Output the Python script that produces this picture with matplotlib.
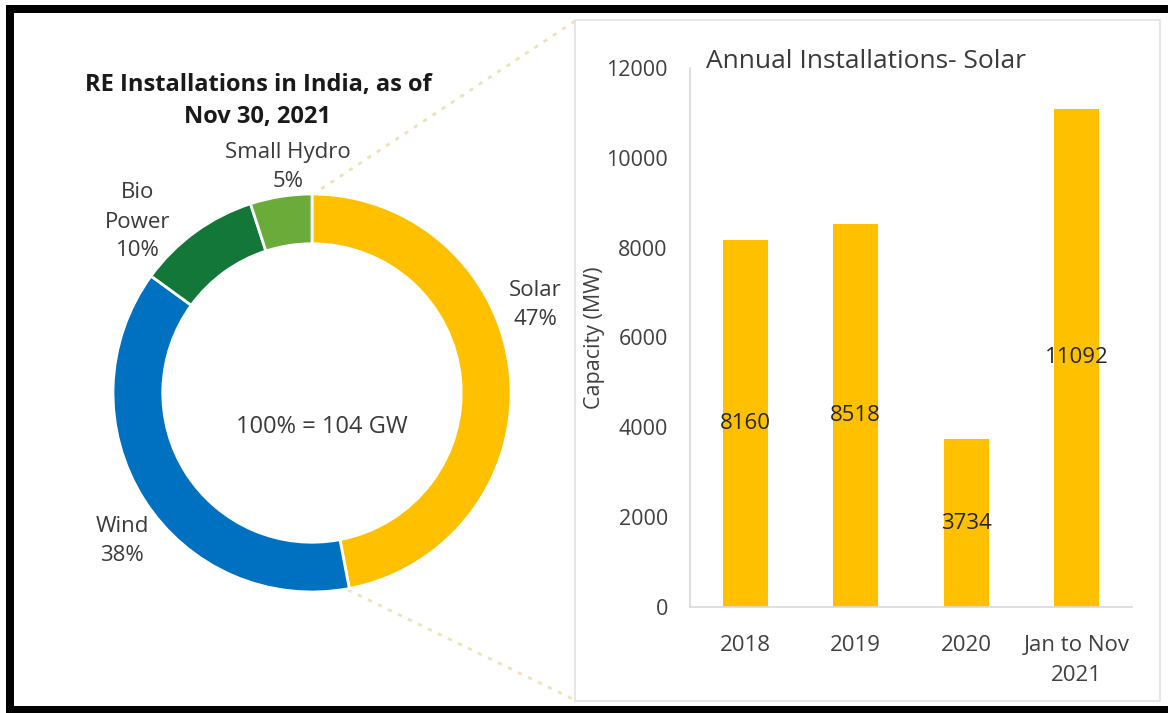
import matplotlib
matplotlib.use("Agg")
import matplotlib.pyplot as plt
from matplotlib.patches import Rectangle

plt.rcParams['font.family'] = ['Open Sans', 'DejaVu Sans']

# ---- data ----
re_sources = ["Solar", "Wind", "Bio\nPower", "Small Hydro"]
re_share = [47, 38, 10, 5]
re_colors = ["#FFC000", "#0070C0", "#13773A", "#6AAB3A"]
total_label = "100% = 104 GW"
donut_title = "RE Installations in India, as of\nNov 30, 2021"

bar_categories = ["2018", "2019", "2020", "Jan to Nov\n2021"]
bar_values = [8160, 8518, 3734, 11092]
bar_title = "Annual Installations- Solar"
bar_ylabel = "Capacity (MW)"
y_ticks = [0, 2000, 4000, 6000, 8000, 10000, 12000]

W, H = 1168, 713
fig = plt.figure(figsize=(W / 100, H / 100), dpi=100)
fig.patch.set_facecolor("white")

def px(x0, y0, x1, y1):
    return [x0 / W, 1 - y1 / H, (x1 - x0) / W, (y1 - y0) / H]

# overlay axes in pixel coordinates
ov = fig.add_axes([0, 0, 1, 1])
ov.set_xlim(0, W)
ov.set_ylim(H, 0)
ov.axis("off")

# black frame (top, left, bottom)
ov.add_patch(Rectangle((6, 5), W - 6, 8, color="black", lw=0))
ov.add_patch(Rectangle((6, 5), 8, H - 5, color="black", lw=0))
ov.add_patch(Rectangle((6, 706), W - 6, 7, color="black", lw=0))

# panel frame for the bar chart
ov.add_patch(Rectangle((575, 20), 585, 681, fill=False, ec="#e2e2e2", lw=1.2))

# dotted connectors
ov.plot([312, 575], [195, 21], ls=(0, (1.5, 2.5)), color="#ece3b8", lw=2)
ov.plot([348, 575], [590, 700], ls=(0, (1.5, 2.5)), color="#ece3b8", lw=2)

# ---- donut ----
cx, cy, R = 312, 393, 199
pa = fig.add_axes(px(cx - R, cy - R, cx + R, cy + R))
pa.pie(re_share, colors=re_colors, startangle=90, counterclock=False, radius=1,
       wedgeprops=dict(width=0.25, edgecolor="white", linewidth=2))
pa.set_xlim(-1, 1)
pa.set_ylim(-1, 1)
pa.axis("off")

txt_c = "#3a3a3a"
ov.text(258, 101, donut_title, ha="center", va="center", fontsize=17,
        fontweight="bold", color="#1a1a1a", linespacing=1.45)
label_pos = [(535, 305), (122, 541), (138, 222), (288, 167)]
for name, share, (lx, ly) in zip(re_sources, re_share, label_pos):
    ov.text(lx, ly, f"{name}\n{share}%", ha="center", va="center",
            fontsize=16, color=txt_c, linespacing=1.5)
ov.text(cx + 10, 427, total_label, ha="center", va="center", fontsize=17, color=txt_c)

# ---- bars ----
ba = fig.add_axes(px(690, 68, 1132, 607))
x = range(len(bar_categories))
bars = ba.bar(x, bar_values, width=0.41, color="#FFC000")
ba.set_xlim(-0.5, len(bar_categories) - 0.5)
ba.set_ylim(0, 12000)
ba.set_yticks(y_ticks)
ba.set_yticklabels([str(t) for t in y_ticks])
ba.set_xticks(list(x))
ba.set_xticklabels(bar_categories, linespacing=1.55)
ba.tick_params(length=0, labelsize=15.5, colors="#404040")
ba.tick_params(axis="y", pad=16)
ba.tick_params(axis="x", pad=20, labelsize=16)
for s in ["top", "right"]:
    ba.spines[s].set_visible(False)
for s in ["left", "bottom"]:
    ba.spines[s].set_color("#d9d9d9")
    ba.spines[s].set_linewidth(1.2)
ba.set_facecolor("none")
for xi, v in zip(x, bar_values):
    ba.text(xi, v / 2, str(v), ha="center", va="center", fontsize=16, color="#262626")
ba.set_ylabel(bar_ylabel, fontsize=15.5, color="#404040")
ba.yaxis.set_label_coords((605 - 690) / 442, (607 - 338) / 539)
ov.text(706, 62, bar_title, ha="left", va="center", fontsize=19, color="#3a3a3a")

fig.savefig("out.png", dpi=100, facecolor="white")
